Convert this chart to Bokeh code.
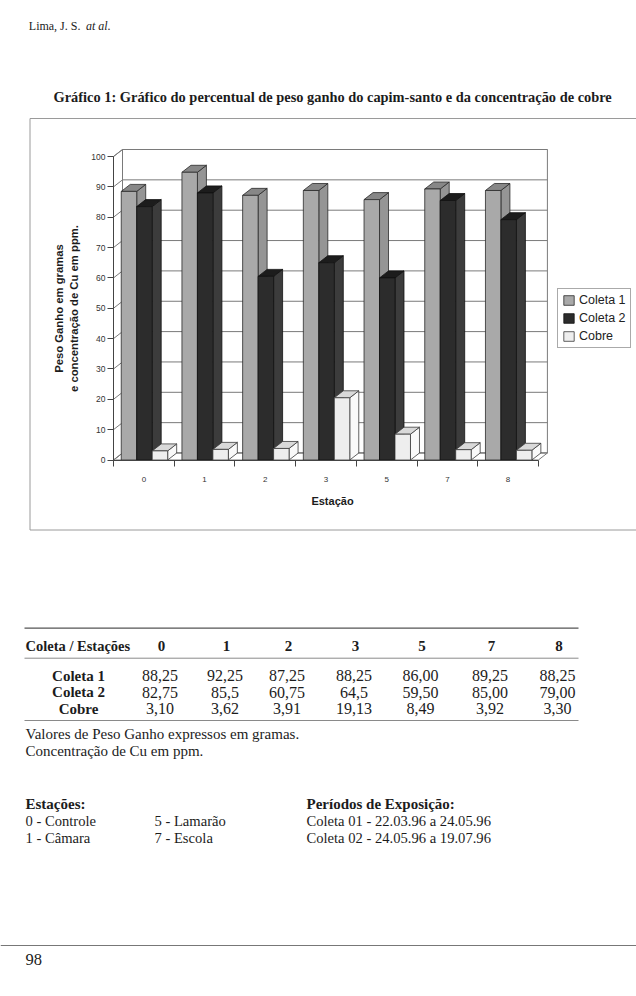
import math
from bokeh.plotting import figure
from bokeh.models import (Range1d, FixedTicker, Label, Legend, LegendItem,
                          ColumnDataSource)
from bokeh.embed import file_html
from bokeh.resources import INLINE

# ---------------- data ----------------
estacoes = ["0", "1", "2", "3", "5", "7", "8"]
series = ["Coleta 1", "Coleta 2", "Cobre"]
# bar heights as drawn in the graph
graf_coleta1 = [88.5, 94.8, 87.2, 88.8, 85.8, 89.3, 88.8]
graf_coleta2 = [83.5, 88.0, 60.5, 65.0, 60.0, 85.5, 79.2]
graf_cobre = [3.0, 3.5, 3.8, 20.5, 8.5, 3.4, 3.2]
y_ticks = [0, 10, 20, 30, 40, 50, 60, 70, 80, 90, 100]

# table under the graph
tab_header = "Coleta / Estações"
tab_coleta1 = ["88,25", "92,25", "87,25", "88,25", "86,00", "89,25", "88,25"]
tab_coleta2 = ["82,75", "85,5", "60,75", "64,5", "59,50", "85,00", "79,00"]
tab_cobre = ["3,10", "3,62", "3,91", "19,13", "8,49", "3,92", "3,30"]
notas = ["Valores de Peso Ganho expressos em gramas.", "Concentração de Cu em ppm."]
est_col1 = ["0 - Controle", "1 - Câmara"]
est_col2 = ["5 - Lamarão", "7 - Escola"]
periodos = ["Coleta 01 - 22.03.96 a 24.05.96", "Coleta 02 - 24.05.96 a 19.07.96"]

# ---------------- geometry (page pixels) ----------------
W, H = 636, 996
AX_X, AX_Y = 113.0, 459.5     # page position of the front axes corner
PX_CAT = 60.7                 # pixels per station
PX_VAL = 3.035                # pixels per unit
DX = 9.0 / PX_CAT             # 3-D depth, station units
DY = 7.0 / PX_VAL             # 3-D depth, value units
BAR_W = 0.255
OFFS = [-0.245, 0.01, 0.265]

n = len(estacoes)
xlo, xhi = -0.5, n - 0.5
x_start = xlo - AX_X / PX_CAT
x_end = xlo + (W - AX_X) / PX_CAT
y_start = -(H - AX_Y) / PX_VAL
y_end = AX_Y / PX_VAL

p = figure(width=W, height=H, output_backend="svg", toolbar_location=None,
           x_range=Range1d(x_start, x_end), y_range=Range1d(y_start, y_end),
           min_border=0, min_border_left=0, min_border_right=0,
           min_border_top=0, min_border_bottom=0)
p.extra_x_ranges = {"page": Range1d(0, W)}
p.extra_y_ranges = {"page": Range1d(H, 0)}
p.background_fill_color = "white"
p.border_fill_color = "white"
p.outline_line_color = None
p.xgrid.visible = False
p.ygrid.visible = False

SANS = "Liberation Sans"
SERIF = "Liberation Serif"
INK = "#1c1c1c"
GRID = "#7a7a7a"

# back wall, floor, left wall
p.quad(left=[xlo + DX], right=[xhi + DX], bottom=[DY], top=[y_ticks[-1] + DY],
       fill_color="white", line_color=GRID, line_width=1)
p.patch([xlo, xhi, xhi + DX, xlo + DX], [0, 0, DY, DY],
        fill_color="white", line_color=GRID, line_width=1)
p.patch([xlo, xlo, xlo + DX, xlo + DX], [0, y_ticks[-1], y_ticks[-1] + DY, DY],
        fill_color="white", line_color=GRID, line_width=1)
p.multi_line(xs=[[xlo, xlo + DX, xhi + DX] for _ in y_ticks],
             ys=[[v, v + DY, v + DY] for v in y_ticks],
             line_color=GRID, line_width=1)

styles = [
    dict(front="#a9a9a9", top="#878787", side="#959595", line="#2a2a2a"),
    dict(front="#2c2c2c", top="#1c1c1c", side="#3c3c3c", line="#111111"),
    dict(front="#eeeeee", top="#d9d9d9", side="#f9f9f9", line="#3a3a3a"),
]
front_renderers = []
for vals, off, st in zip([graf_coleta1, graf_coleta2, graf_cobre], OFFS, styles):
    L = [i + off - BAR_W / 2 for i in range(n)]
    R = [l + BAR_W for l in L]
    src_side = ColumnDataSource(dict(
        xs=[[r, r + DX, r + DX, r] for r in R],
        ys=[[0, DY, v + DY, v] for v in vals]))
    src_top = ColumnDataSource(dict(
        xs=[[l, r, r + DX, l + DX] for l, r in zip(L, R)],
        ys=[[v, v, v + DY, v + DY] for v in vals]))
    p.patches("xs", "ys", source=src_side, fill_color=st["side"],
              line_color=st["line"], line_width=0.8)
    p.patches("xs", "ys", source=src_top, fill_color=st["top"],
              line_color=st["line"], line_width=0.8)
    fr = p.quad(left=L, right=R, bottom=0, top=vals, fill_color=st["front"],
                line_color=st["line"], line_width=0.8)
    front_renderers.append(fr)

# axes, fixed at the front corner of the 3-D box
ya = p.yaxis[0]
ya.fixed_location = xlo
ya.ticker = FixedTicker(ticks=y_ticks)
ya.bounds = (0, 100)
ya.axis_line_color = "#444"
ya.major_tick_line_color = "#444"
ya.major_tick_out = 6
ya.major_tick_in = 0
ya.minor_tick_line_color = None
ya.major_label_text_font = SANS
ya.major_label_text_font_size = "8.5px"
ya.major_label_text_color = "#333"
ya.major_label_standoff = 2

xa = p.xaxis[0]
xa.fixed_location = 0
xa.ticker = FixedTicker(ticks=list(range(n)),
                        minor_ticks=[i - 0.5 for i in range(n + 1)])
xa.bounds = (xlo, xhi)
xa.axis_line_color = "#444"
xa.major_tick_line_color = None
xa.major_tick_out = 0
xa.major_tick_in = 0
xa.minor_tick_line_color = "#444"
xa.minor_tick_out = 6
xa.minor_tick_in = 0
xa.major_label_overrides = {i: s for i, s in enumerate(estacoes)}
xa.major_label_text_font = SANS
xa.major_label_text_font_size = "8px"
xa.major_label_text_color = "#333"
xa.major_label_standoff = 11

legend = Legend(items=[LegendItem(label=s, renderers=[r])
                       for s, r in zip(series, front_renderers)],
                location=(557, H - 348),
                label_text_font=SANS, label_text_font_size="12.5px",
                label_text_color="#222", border_line_color="#555",
                border_line_width=1, background_fill_color="white",
                padding=4, spacing=4, margin=0, glyph_width=13,
                glyph_height=12, label_height=14, label_standoff=4)
p.add_layout(legend)


def txt(x, y, s, size, font=SERIF, style="normal", align="left", angle=0.0,
        color=INK):
    p.add_layout(Label(x=x, y=y, x_range_name="page", y_range_name="page",
                       text=s, text_font=font, text_font_size=f"{size}px",
                       text_font_style=style, text_align=align,
                       text_baseline="middle", angle=angle, text_color=color))


def rule(xa_, xb_, y, color="#6a6a6a", thick=1.2):
    p.segment(x0=[xa_], y0=[y], x1=[xb_], y1=[y], line_color=color,
              line_width=thick, x_range_name="page", y_range_name="page")


# chart box (right edge runs off the page)
p.line([W + 5, 29.5, 29.5, W + 5], [118, 118, 529.5, 529.5], line_color="#9a9a9a",
       line_width=1, x_range_name="page", y_range_name="page")

# header
txt(28.3, 25, "Lima, J. S.", 12)
txt(85.5, 25, "at al.", 12, style="italic")
txt(53, 96, "Gráfico 1: Gráfico do percentual de peso ganho do capim-santo e da concentração de cobre",
    14.4, style="bold")

# axis titles
txt(58.5, 308, "Peso Ganho em gramas", 11.3, font=SANS, style="bold", align="center",
    angle=math.pi / 2)
txt(73, 308, "e concentração de Cu em ppm.", 11.3, font=SANS, style="bold",
    align="center", angle=math.pi / 2)
txt(332, 500, "Estação", 11, font=SANS, style="bold", align="center")

# table
col_x = [161, 226, 288, 355, 421.5, 491, 558.5]
rule(24, 578, 627.7, "#555", 1.3)
txt(25, 645.5, tab_header, 14.5, style="bold")
for cx, e in zip(col_x, estacoes):
    txt(cx, 645.5, e, 15, style="bold", align="center")
rule(24, 578, 657.7, "#8a8a8a", 1.0)
for ry, nome, vals in zip([675, 691.7, 708.3], series,
                          [tab_coleta1, tab_coleta2, tab_cobre]):
    txt(78, ry, nome, 15, style="bold", align="center")
    for cx, v in zip(col_x, vals):
        txt(cx - 1.5, ry, v, 16, align="center")
rule(24, 578, 720, "#8a8a8a", 1.0)
for ny, s in zip([733.3, 750], notas):
    txt(25, ny, s, 15)

# stations / exposure periods
txt(25, 803.3, "Estações:", 15, style="bold")
txt(306, 803.3, "Períodos de Exposição:", 15, style="bold")
for yy, a, b, c in zip([820.7, 837.3], est_col1, est_col2, periodos):
    txt(25, yy, a, 14.6)
    txt(154, yy, b, 14.6)
    txt(306, yy, c, 14.6)

rule(0, W, 945, "#777", 1.2)
txt(25, 958.5, "98", 16.5)

open("out.html", "w").write(file_html(p, INLINE, title="Gráfico 1"))
